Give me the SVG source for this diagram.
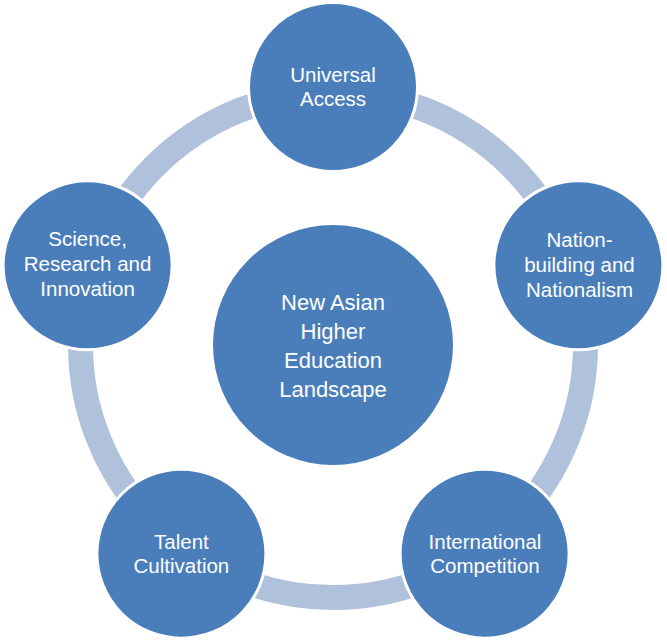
<svg xmlns="http://www.w3.org/2000/svg" width="667" height="643" viewBox="0 0 667 643">
<style>
.ring{fill:none;stroke:#b0c1dc;stroke-width:25}
.sat{fill:#4a7ebb;stroke:#ffffff;stroke-width:3}
.hub{fill:#4a7ebb}
.t{font-family:"Liberation Sans",Arial,Helvetica,sans-serif;font-size:20.5px;fill:#ffffff;text-anchor:middle}
.th{font-family:"Liberation Sans",Arial,Helvetica,sans-serif;font-size:22px;fill:#ffffff;text-anchor:middle}
</style>
<rect width="667" height="643" fill="#ffffff"/>
<g id="connectors">
<circle class="ring" cx="333" cy="345" r="252.5"/>
</g>
<g id="hub">
<circle class="hub" cx="333" cy="345" r="120"/>
<text class="th" x="333" y="309.5">New Asian</text>
<text class="th" x="333" y="338.5">Higher</text>
<text class="th" x="333" y="367.5">Education</text>
<text class="th" x="333" y="396.5">Landscape</text>
</g>
<g id="universal-access">
<circle class="sat" cx="333" cy="87" r="84.5"/>
<text class="t" x="333" y="81.6">Universal</text>
<text class="t" x="333" y="106.3">Access</text>
</g>
<g id="nation-building">
<circle class="sat" cx="578.4" cy="265.3" r="84.5"/>
<text class="t" x="579.5" y="246.5">Nation-</text>
<text class="t" x="579.5" y="271.5">building and</text>
<text class="t" x="579.5" y="296.5">Nationalism</text>
</g>
<g id="international-competition">
<circle class="sat" cx="484.6" cy="553.7" r="84.5"/>
<text class="t" x="485" y="548.8">International</text>
<text class="t" x="485" y="573.3">Competition</text>
</g>
<g id="talent-cultivation">
<circle class="sat" cx="181.4" cy="553.7" r="84.5"/>
<text class="t" x="181.4" y="548.8">Talent</text>
<text class="t" x="181.4" y="573.3">Cultivation</text>
</g>
<g id="science-research">
<circle class="sat" cx="87.6" cy="265.3" r="84.5"/>
<text class="t" x="87.6" y="245.5">Science,</text>
<text class="t" x="87.6" y="270.5">Research and</text>
<text class="t" x="87.6" y="295.5">Innovation</text>
</g>
</svg>
